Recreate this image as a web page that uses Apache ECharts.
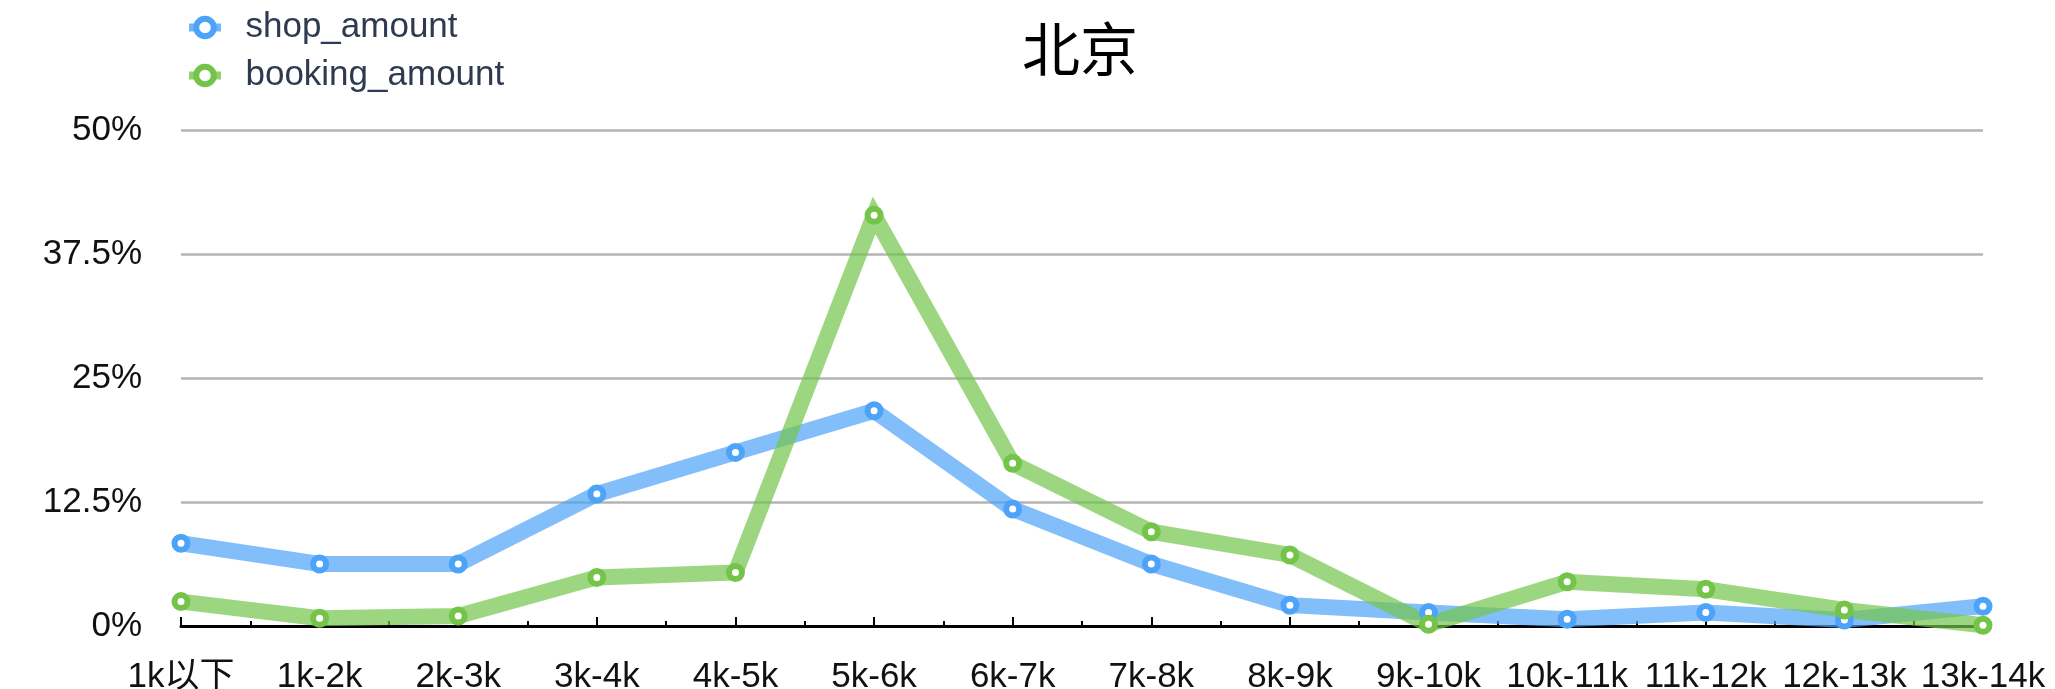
<!DOCTYPE html>
<html>
<head>
<meta charset="utf-8">
<title>北京</title>
<script src="https://cdn.jsdelivr.net/npm/echarts@6/dist/echarts.min.js"></script>
<style>
    html, body { margin: 0; padding: 0; background: #fff; }
    #chart-line { width: 2055px; height: 689px; }
</style>
</head>
<body>
<div id="chart-line"></div>
<script>
var cityName = '北京';
var priceRange = ['1k以下', '1k-2k', '2k-3k', '3k-4k', '4k-5k', '5k-6k', '6k-7k',
    '7k-8k', '8k-9k', '9k-10k', '10k-11k', '11k-12k', '12k-13k', '13k-14k'];
var shopAmount = [8.34, 6.25, 6.25, 13.3, 17.5, 21.7, 11.8, 6.25, 2.1, 1.35, 0.68, 1.35, 0.6, 2.0];
var bookingAmount = [2.46, 0.78, 1.0, 4.9, 5.4, 41.4, 16.4, 9.5, 7.16, 0.17, 4.46, 3.7, 1.62, 0.08];
var yTicks = [0, 12.5, 25, 37.5, 50];

var latinFont = '"Liberation Sans", "Noto Sans CJK SC", sans-serif';
var blue = '#4da3f7';
var green = '#74c44a';

window.onload = function()
{
    paintLine();
}

function lineSeries(name, data, color)
{
    return {
        name: name,
        type: 'line',
        data: data,
        color: color,
        symbol: 'circle',
        symbolSize: 13,
        itemStyle: { color: '#fff', borderColor: color, borderWidth: 6 },
        lineStyle: { color: color, width: 16, opacity: 0.7, join: 'miter' }
    };
}

function legendItem(name, color)
{
    return {
        name: name,
        itemStyle: { color: '#fff', borderColor: color, borderWidth: 6 },
        lineStyle: { color: color, width: 8, opacity: 0.8 }
    };
}

function paintLine()
{
    var myChart = echarts.init(document.getElementById('chart-line'));
    var option = {
        animation: false,
        backgroundColor: '#fff',
        title: {
            text: cityName,
            left: 1017,
            top: 15,
            textStyle: {
                fontFamily: '"Noto Sans CJK SC", sans-serif',
                fontSize: 58,
                fontWeight: 'normal',
                color: '#000'
            }
        },
        legend: {
            orient: 'vertical',
            left: 180,
            top: 5,
            itemWidth: 32,
            itemHeight: 22,
            itemGap: 13,
            formatter: function (name) { return '  ' + name; },
            textStyle: {
                fontFamily: latinFont,
                fontSize: 35,
                color: '#2e3a50'
            },
            data: [legendItem('shop_amount', blue), legendItem('booking_amount', green)]
        },
        grid: {
            left: 181,
            right: 72,
            top: 130,
            bottom: 63,
            outerBoundsMode: 'none'
        },
        xAxis: [{
            type: 'category',
            boundaryGap: false,
            data: priceRange,
            axisLine: { lineStyle: { color: '#000', width: 3 } },
            axisTick: { inside: true, length: 9, lineStyle: { color: '#000', width: 2 } },
            axisLabel: {
                interval: 0,
                margin: 34,
                fontFamily: latinFont,
                fontSize: 35,
                color: '#111'
            },
            splitLine: { show: false }
        }, {
            // half step ticks between the categories
            type: 'value',
            position: 'bottom',
            min: 0,
            max: priceRange.length - 1,
            interval: 0.5,
            axisLine: { show: false },
            axisTick: { inside: true, length: 5, lineStyle: { color: '#000', width: 2 } },
            axisLabel: { show: false },
            splitLine: { show: false }
        }],
        yAxis: {
            type: 'value',
            min: yTicks[0],
            max: yTicks[yTicks.length - 1],
            interval: yTicks[1] - yTicks[0],
            axisLine: { show: false },
            axisTick: { show: false },
            axisLabel: {
                margin: 39,
                fontFamily: latinFont,
                fontSize: 35,
                color: '#111',
                formatter: '{value}%'
            },
            splitLine: { lineStyle: { color: '#b4b4b4', width: 2.5 } }
        },
        series: [
            lineSeries('shop_amount', shopAmount, blue),
            lineSeries('booking_amount', bookingAmount, green)
        ]
    };
    myChart.setOption(option);
}
</script>
</body>
</html>
